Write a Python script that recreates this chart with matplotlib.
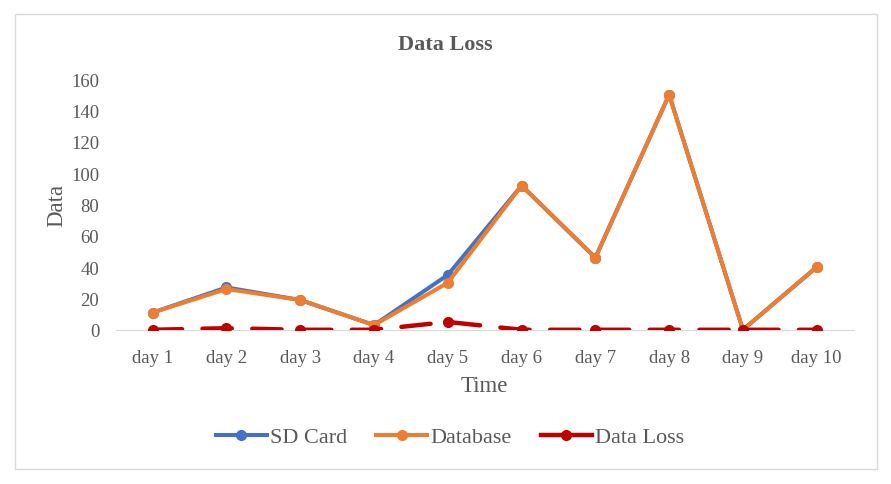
import matplotlib.pyplot as plt
from matplotlib.patches import Rectangle

days = ["day 1", "day 2", "day 3", "day 4", "day 5", "day 6", "day 7", "day 8", "day 9", "day 10"]
sd_card = [11, 27, 19, 3, 35, 92, 46, 150, 0, 40]
database = [11, 26, 19, 3, 30, 92, 46, 150, 0, 40]
data_loss = [0, 1, 0, 0, 5, 0, 0, 0, 0, 0]
y_ticks = [0, 20, 40, 60, 80, 100, 120, 140, 160]

plt.rcParams['font.family'] = ['Liberation Serif', 'DejaVu Serif']
grey = '#595959'

fig = plt.figure(figsize=(8.91, 4.85), dpi=100)
ax = fig.add_axes([0.130, 0.318, 0.828, 0.517])

# outer chart border
fig.patches.append(Rectangle((15 / 891, 15 / 485), 862 / 891, 455 / 485, transform=fig.transFigure,
                             fill=False, edgecolor='#D9D9D9', linewidth=1))

x = list(range(len(days)))
ax.plot(x, sd_card, color='#4472C4', lw=2.9, marker='o', ms=7, label='SD Card')
ax.plot(x, database, color='#ED7D31', lw=2.9, marker='o', ms=7, label='Database')
ax.plot(x, data_loss, color='#C00000', lw=3.2, marker='o', ms=7, dashes=(6.6, 4.6),
        dash_capstyle='round', label='Data Loss')

ax.set_xlim(-0.5, len(days) - 0.5)
ax.set_ylim(0, 160)
ax.set_xticks(x)
ax.set_xticklabels(days)
ax.set_yticks(y_ticks)
ax.tick_params(length=0, labelsize=13.5, labelcolor=grey)
ax.tick_params(axis='x', pad=13.5)
ax.tick_params(axis='y', pad=12)
for s in ['top', 'right', 'left']:
    ax.spines[s].set_visible(False)
ax.spines['bottom'].set_color('#D9D9D9')
ax.spines['bottom'].set_zorder(0)

fig.text(0.5, 1 - 45 / 485, 'Data Loss', fontsize=16, fontweight='bold', color=grey,
         ha='center', va='center')
ax.set_xlabel('Time', fontsize=16.5, color=grey, labelpad=7)
ax.set_ylabel('Data', fontsize=16.5, color=grey, labelpad=3)

leg = fig.legend(loc='center', bbox_to_anchor=(0.505, 1 - 438 / 485), ncol=3, frameon=False,
                 fontsize=16, labelcolor=grey, handlelength=2.3, handletextpad=0.15,
                 columnspacing=1.3)
leg.get_lines()[2].set_linestyle('-')

fig.savefig('out.png', dpi=100)
